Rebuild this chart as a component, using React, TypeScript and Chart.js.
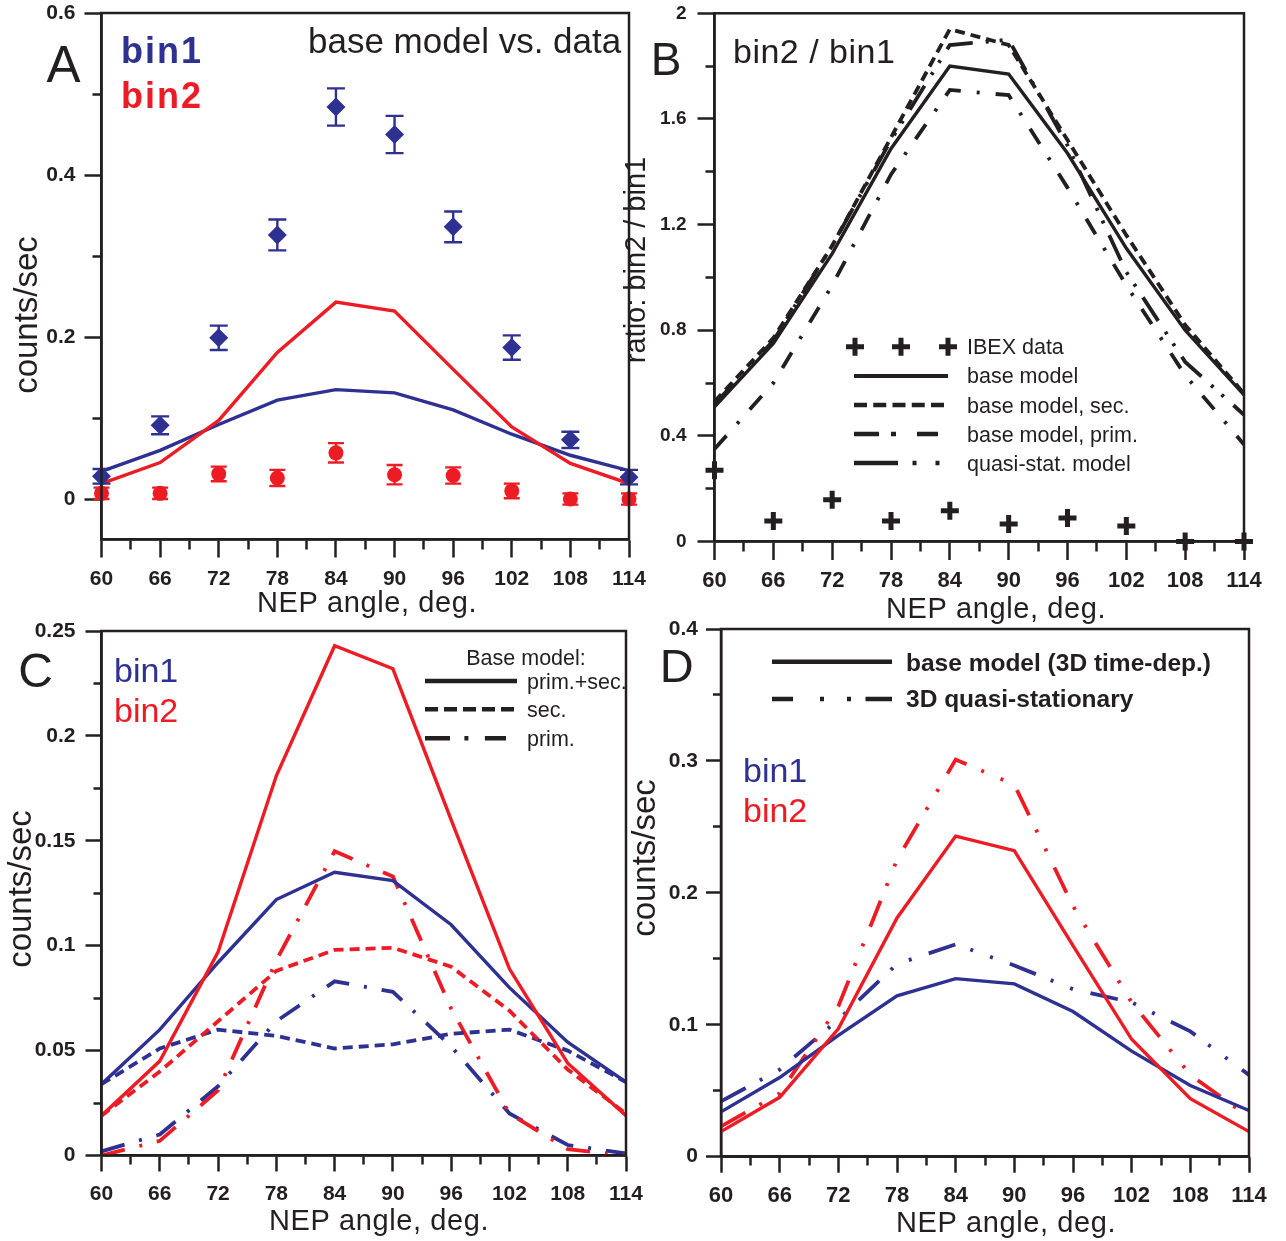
import React, { useEffect, useRef } from 'react';
import { Chart, registerables } from 'chart.js';

Chart.register(...registerables);

const W = 1286;
const H = 1241;
const OFF = 100; // canvases overhang the page so label padding never pushes the plot areas
const INK = '#231f20';
const BLUE = '#2e3192';
const RED = '#ed1c24';
const FONT = '"Liberation Sans", Arial, Helvetica, sans-serif';

// ---------- data ----------
const angles = [60, 66, 72, 78, 84, 90, 96, 102, 108, 114];
const xTicks = [60, 63, 66, 69, 72, 75, 78, 81, 84, 87, 90, 93, 96, 99, 102, 105, 108, 111, 114];
const xTickLabels = ['60', '', '66', '', '72', '', '78', '', '84', '', '90', '', '96', '', '102', '', '108', '', '114'];

// panel A: IBEX data with error bars
const bin1Data = [0.028, 0.091, 0.199, 0.326, 0.484, 0.450, 0.336, 0.187, 0.073, 0.027];
const bin1Err = [0.009, 0.011, 0.015, 0.019, 0.023, 0.023, 0.019, 0.015, 0.010, 0.009];
const bin2Data = [0.007, 0.007, 0.031, 0.026, 0.057, 0.030, 0.029, 0.010, 0.000, 0.000];
const bin2Err = [0.007, 0.007, 0.009, 0.010, 0.012, 0.012, 0.010, 0.009, 0.007, 0.007];

// base model (prim.+sec.), secondary only, primary only
const bin1Base = [0.034, 0.060, 0.092, 0.122, 0.135, 0.131, 0.110, 0.080, 0.054, 0.035];
const bin2Base = [0.019, 0.045, 0.097, 0.181, 0.243, 0.232, 0.160, 0.089, 0.044, 0.019];
const bin1Sec = [0.034, 0.051, 0.060, 0.057, 0.051, 0.053, 0.058, 0.060, 0.050, 0.035];
const bin2Sec = [0.019, 0.040, 0.064, 0.088, 0.098, 0.099, 0.090, 0.069, 0.041, 0.020];
const bin1Prim = [0.002, 0.010, 0.033, 0.064, 0.083, 0.078, 0.052, 0.020, 0.005, 0.001];
const bin2Prim = [0.000, 0.007, 0.031, 0.093, 0.145, 0.133, 0.070, 0.020, 0.003, 0.000];
// 3D quasi-stationary model
const bin1QS = [0.042, 0.066, 0.104, 0.146, 0.161, 0.145, 0.127, 0.117, 0.095, 0.062];
const bin2QS = [0.023, 0.048, 0.114, 0.225, 0.301, 0.282, 0.190, 0.117, 0.062, 0.030];

// panel B: ratio bin2 / bin1
const ratioIbex = [0.27, 0.078, 0.158, 0.078, 0.116, 0.066, 0.089, 0.059, 0.0, 0.0];
const ratioBase = [0.51, 0.75, 1.09, 1.487, 1.80, 1.77, 1.47, 1.11, 0.80, 0.555];
const ratioSec = [0.53, 0.77, 1.12, 1.53, 1.94, 1.88, 1.52, 1.16, 0.82, 0.56];
const ratioPrim = [0.35, 0.60, 0.97, 1.39, 1.71, 1.69, 1.34, 0.97, 0.63, 0.367];
const ratioQS = [0.52, 0.76, 1.12, 1.52, 1.88, 1.90, 1.50, 1.02, 0.68, 0.48];

// y ticks
const aYTicks = [0, 0.1, 0.2, 0.3, 0.4, 0.5, 0.6];
const aYLabels = ['0', '', '0.2', '', '0.4', '', '0.6'];
const bYTicks = [0, 0.2, 0.4, 0.6, 0.8, 1.0, 1.2, 1.4, 1.6, 1.8, 2.0];
const bYLabels = ['0', '', '0.4', '', '0.8', '', '1.2', '', '1.6', '', '2'];
const cYTicks = [0, 0.025, 0.05, 0.075, 0.1, 0.125, 0.15, 0.175, 0.2, 0.225, 0.25];
const cYLabels = ['0', '', '0.05', '', '0.1', '', '0.15', '', '0.2', '', '0.25'];
const dYTicks = [0, 0.05, 0.1, 0.15, 0.2, 0.25, 0.3, 0.35, 0.4];
const dYLabels = ['0', '', '0.1', '', '0.2', '', '0.3', '', '0.4'];

// ---------- styles ----------
const SOLID_W = 3.4;
const DASH_W = 3.8;
const DASH_SEC = [10, 6];
const DASH_PRIM_B = [18, 16, 3, 16];
const DASH_QS_B = [28, 13, 3, 11, 3, 13];
const DASH_PRIM_C = [24, 15, 3, 15];
const DASH_QS_D = [28, 16, 3, 18, 3, 18];

const xy = (ys: number[]) => ys.map((y, i) => ({ x: angles[i], y }));

const lineDs = (ys: number[], color: string, width: number, dash: number[] = []) => ({
  data: xy(ys),
  showLine: true,
  borderColor: color,
  borderWidth: width,
  borderDash: dash,
  pointRadius: 0,
  tension: 0,
  fill: false,
  borderCapStyle: 'butt',
  borderJoinStyle: 'miter',
});

const markerDs = (ys: number[], color: string, style: string, radius: number, bw = 0) => ({
  data: xy(ys),
  showLine: false,
  pointStyle: style,
  pointRadius: radius,
  pointBackgroundColor: color,
  pointBorderColor: color,
  pointBorderWidth: bw,
  clip: false,
});

type TextItem = {
  text: string; x: number; y: number; size: number; bold?: boolean; color?: string;
  align?: CanvasTextAlign; rot?: number; spacing?: number;
};
type LegendLine = { x1: number; x2: number; y: number; width: number; dash: number[]; color?: string };
type ErrBars = { index: number; values: number[]; errors: number[]; color: string; cap: number };

function makeDecor(texts: TextItem[], lines: LegendLine[], crosses: { x: number; y: number }[], errs: ErrBars[]) {
  return {
    id: 'decor',
    afterDatasetDraw(chart: any, args: any) {
      for (const eb of errs) {
        if (eb.index !== args.index) continue;
        const ctx = chart.ctx;
        const xs = chart.scales.x;
        const ys = chart.scales.y;
        ctx.save();
        ctx.strokeStyle = eb.color;
        ctx.lineWidth = 2.4;
        ctx.setLineDash([]);
        eb.values.forEach((v, i) => {
          const px = xs.getPixelForValue(angles[i]);
          const t = ys.getPixelForValue(v + eb.errors[i]);
          const b = ys.getPixelForValue(v - eb.errors[i]);
          ctx.beginPath();
          ctx.moveTo(px, t); ctx.lineTo(px, b);
          ctx.moveTo(px - eb.cap / 2, t); ctx.lineTo(px + eb.cap / 2, t);
          ctx.moveTo(px - eb.cap / 2, b); ctx.lineTo(px + eb.cap / 2, b);
          ctx.stroke();
        });
        ctx.restore();
      }
    },
    afterDraw(chart: any) {
      const ctx = chart.ctx;
      const a = chart.chartArea;
      ctx.save();
      ctx.setLineDash([]);
      ctx.strokeStyle = INK;
      ctx.lineWidth = 2.5;
      ctx.strokeRect(a.left, a.top, a.right - a.left, a.bottom - a.top);
      ctx.translate(OFF, OFF);
      for (const l of lines) {
        ctx.setLineDash(l.dash);
        ctx.strokeStyle = l.color || INK;
        ctx.lineWidth = l.width;
        ctx.lineCap = 'butt';
        ctx.beginPath();
        ctx.moveTo(l.x1, l.y);
        ctx.lineTo(l.x2, l.y);
        ctx.stroke();
      }
      ctx.setLineDash([]);
      for (const c of crosses) {
        ctx.strokeStyle = INK;
        ctx.lineWidth = 5;
        ctx.beginPath();
        ctx.moveTo(c.x - 9, c.y); ctx.lineTo(c.x + 9, c.y);
        ctx.moveTo(c.x, c.y - 9); ctx.lineTo(c.x, c.y + 9);
        ctx.stroke();
      }
      for (const t of texts) {
        ctx.save();
        ctx.font = `${t.bold ? 'bold ' : ''}${t.size}px ${FONT}`;
        ctx.fillStyle = t.color || INK;
        ctx.textAlign = t.align || 'left';
        ctx.textBaseline = 'alphabetic';
        (ctx as any).letterSpacing = `${t.spacing || 0}px`;
        ctx.translate(t.x, t.y);
        if (t.rot) ctx.rotate(t.rot);
        ctx.fillText(t.text, 0, 0);
        ctx.restore();
      }
      ctx.restore();
    },
  };
}

type AxisSpec = { tl: number; minor: number; size: number; pad: number };

function gridOpts(tl: number, minor: number, labels: string[], horizontal: boolean) {
  return {
    display: true,
    drawOnChartArea: false,
    drawTicks: true,
    tickLength: tl,
    tickWidth: 2.5,
    tickColor: INK,
    tickBorderDash: (c: any) =>
      labels[c.index] ? [] : horizontal ? [minor, 1000] : [0, tl - minor, minor, 1000],
  };
}

const CW = W + 2 * OFF;
const CH = H + 2 * OFF;

function makeConfig(p: {
  area: { l: number; r: number; t: number; b: number };
  yMin: number; yMax: number; yTicks: number[]; yLabels: string[];
  xa: AxisSpec; ya: AxisSpec;
  datasets: any[];
  plugin: any;
}) {
  const yW = 80;
  const xH = 60;
  return {
    type: 'line',
    data: { datasets: p.datasets },
    options: {
      responsive: false,
      animation: false,
      devicePixelRatio: 1,
      events: [],
      layout: {
        autoPadding: false,
        padding: {
          left: OFF + p.area.l - yW,
          top: OFF + p.area.t,
          right: CW - OFF - p.area.r,
          bottom: CH - OFF - p.area.b - xH,
        },
      },
      plugins: { legend: { display: false }, tooltip: { enabled: false }, title: { display: false } },
      scales: {
        x: {
          type: 'linear',
          position: 'bottom',
          min: 60,
          max: 114,
          bounds: 'data',
          afterBuildTicks: (s: any) => { s.ticks = xTicks.map((v) => ({ value: v })); },
          afterFit: (s: any) => { s.height = xH; },
          ticks: {
            autoSkip: false, maxRotation: 0, minRotation: 0, padding: p.xa.pad, color: INK,
            font: { family: FONT, size: p.xa.size, weight: 'bold' },
            callback: (_v: any, i: number) => xTickLabels[i] ?? '',
          },
          grid: gridOpts(p.xa.tl, p.xa.minor, xTickLabels, true),
          border: { display: true, color: INK, width: 2.5 },
        },
        y: {
          type: 'linear',
          position: 'left',
          min: p.yMin,
          max: p.yMax,
          bounds: 'data',
          afterBuildTicks: (s: any) => { s.ticks = p.yTicks.map((v) => ({ value: v })); },
          afterFit: (s: any) => { s.width = yW; },
          ticks: {
            autoSkip: false, padding: p.ya.pad, color: INK,
            font: { family: FONT, size: p.ya.size, weight: 'bold' },
            callback: (_v: any, i: number) => p.yLabels[i] ?? '',
          },
          grid: gridOpts(p.ya.tl, p.ya.minor, p.yLabels, false),
          border: { display: true, color: INK, width: 2.5 },
        },
      },
    },
    plugins: [p.plugin],
  };
}

const ROT = -Math.PI / 2;

// ---------- panel configs ----------
const configA = makeConfig({
  area: { l: 101.5, r: 629, t: 13, b: 539.5 },
  yMin: -0.05, yMax: 0.6, yTicks: aYTicks, yLabels: aYLabels,
  xa: { tl: 18, minor: 9, size: 21, pad: 9 },
  ya: { tl: 17, minor: 9, size: 21, pad: 9 },
  datasets: [
    markerDs(bin1Data, BLUE, 'rectRot', 9.5),
    markerDs(bin2Data, RED, 'circle', 7.5),
    lineDs(bin2Base, RED, SOLID_W),
    lineDs(bin1Base, BLUE, SOLID_W),
  ],
  plugin: makeDecor(
    [
      { text: 'A', x: 63.5, y: 82, size: 51, align: 'center' },
      { text: 'bin1', x: 121, y: 63, size: 36, bold: true, color: BLUE, spacing: 2 },
      { text: 'bin2', x: 121, y: 108, size: 36, bold: true, color: RED, spacing: 2 },
      { text: 'base model vs. data', x: 308, y: 53, size: 35 },
      { text: 'counts/sec', x: 37, y: 315, size: 33, align: 'center', rot: ROT },
      { text: 'NEP angle, deg.', x: 367, y: 612, size: 29, align: 'center', spacing: 0.6 },
    ],
    [],
    [],
    [
      { index: 0, values: bin1Data, errors: bin1Err, color: BLUE, cap: 18 },
      { index: 1, values: bin2Data, errors: bin2Err, color: RED, cap: 16 },
    ],
  ),
});

const configB = makeConfig({
  area: { l: 714.5, r: 1244, t: 13.3, b: 541.5 },
  yMin: 0, yMax: 2, yTicks: bYTicks, yLabels: bYLabels,
  xa: { tl: 18.5, minor: 9, size: 22, pad: 8 },
  ya: { tl: 17, minor: 9, size: 19, pad: 11 },
  datasets: [
    markerDs(ratioIbex, INK, 'cross', 9, 5),
    lineDs(ratioBase, INK, SOLID_W),
    lineDs(ratioSec, INK, DASH_W, DASH_SEC),
    lineDs(ratioPrim, INK, DASH_W, DASH_PRIM_B),
    lineDs(ratioQS, INK, DASH_W, DASH_QS_B),
  ],
  plugin: makeDecor(
    [
      { text: 'B', x: 666, y: 75, size: 46, align: 'center' },
      { text: 'bin2 / bin1', x: 733, y: 63, size: 34, spacing: 0.5 },
      { text: 'ratio: bin2 / bin1', x: 645, y: 260, size: 29, align: 'center', rot: ROT },
      { text: 'NEP angle, deg.', x: 996, y: 618, size: 29, align: 'center', spacing: 0.6 },
      { text: 'IBEX data', x: 967, y: 353.5, size: 21.5 },
      { text: 'base model', x: 967, y: 383, size: 21.5 },
      { text: 'base model, sec.', x: 967, y: 412.5, size: 21.5 },
      { text: 'base model, prim.', x: 967, y: 441.5, size: 21.5 },
      { text: 'quasi-stat. model', x: 967, y: 470.5, size: 21.5 },
    ],
    [
      { x1: 854, x2: 948, y: 376, width: 4, dash: [] },
      { x1: 854, x2: 944, y: 405, width: 4.5, dash: [13, 6.25] },
      { x1: 854, x2: 938, y: 434, width: 4.5, dash: [25, 12, 5, 21] },
      { x1: 854, x2: 940, y: 463, width: 4.5, dash: [44, 14.5, 4, 19, 4, 100] },
    ],
    [
      { x: 855, y: 346.7 },
      { x: 901, y: 346.7 },
      { x: 948, y: 346.7 },
    ],
    [],
  ),
});

const configC = makeConfig({
  area: { l: 101.5, r: 626, t: 631, b: 1155.5 },
  yMin: 0, yMax: 0.25, yTicks: cYTicks, yLabels: cYLabels,
  xa: { tl: 16, minor: 8, size: 21, pad: 10 },
  ya: { tl: 16, minor: 8, size: 21, pad: 10 },
  datasets: [
    lineDs(bin2Base, RED, SOLID_W),
    lineDs(bin1Base, BLUE, SOLID_W),
    lineDs(bin2Sec, RED, DASH_W, DASH_SEC),
    lineDs(bin1Sec, BLUE, DASH_W, DASH_SEC),
    lineDs(bin2Prim, RED, DASH_W, DASH_PRIM_C),
    lineDs(bin1Prim, BLUE, DASH_W, DASH_PRIM_C),
  ],
  plugin: makeDecor(
    [
      { text: 'C', x: 35.5, y: 687, size: 48, align: 'center' },
      { text: 'bin1', x: 114, y: 682, size: 34, color: BLUE },
      { text: 'bin2', x: 114, y: 722, size: 34, color: RED },
      { text: 'Base model:', x: 526, y: 665, size: 21.5, align: 'center' },
      { text: 'prim.+sec.', x: 527, y: 688.5, size: 21.5 },
      { text: 'sec.', x: 527, y: 716.5, size: 21.5 },
      { text: 'prim.', x: 527, y: 745.5, size: 21.5 },
      { text: 'counts/sec', x: 31, y: 889, size: 33, align: 'center', rot: ROT },
      { text: 'NEP angle, deg.', x: 379, y: 1230, size: 29, align: 'center', spacing: 0.6 },
    ],
    [
      { x1: 425, x2: 517, y: 681, width: 4.5, dash: [] },
      { x1: 425, x2: 514, y: 709.3, width: 4.5, dash: [13, 6] },
      { x1: 425, x2: 506, y: 738.3, width: 4.5, dash: [25, 14.4, 4, 16.5] },
    ],
    [],
    [],
  ),
});

const configD = makeConfig({
  area: { l: 721, r: 1249, t: 629, b: 1156.7 },
  yMin: 0, yMax: 0.4, yTicks: dYTicks, yLabels: dYLabels,
  xa: { tl: 16, minor: 8, size: 22, pad: 10 },
  ya: { tl: 15, minor: 8, size: 21, pad: 8 },
  datasets: [
    lineDs(bin2Base, RED, SOLID_W),
    lineDs(bin1Base, BLUE, SOLID_W),
    lineDs(bin2QS, RED, DASH_W, DASH_QS_D),
    lineDs(bin1QS, BLUE, DASH_W, DASH_QS_D),
  ],
  plugin: makeDecor(
    [
      { text: 'D', x: 676.7, y: 682, size: 47, align: 'center' },
      { text: 'bin1', x: 743, y: 782, size: 34, color: BLUE },
      { text: 'bin2', x: 743, y: 822, size: 34, color: RED },
      { text: 'base model (3D time-dep.)', x: 906, y: 670.7, size: 24.5, bold: true },
      { text: '3D quasi-stationary', x: 906, y: 707.3, size: 24.5, bold: true },
      { text: 'counts/sec', x: 655, y: 858, size: 33, align: 'center', rot: ROT },
      { text: 'NEP angle, deg.', x: 1006, y: 1232, size: 29, align: 'center', spacing: 0.6 },
    ],
    [
      { x1: 772, x2: 892, y: 661.7, width: 4.5, dash: [] },
      { x1: 772, x2: 892, y: 699, width: 4.5, dash: [21, 27, 4, 23, 4, 14.5, 27, 100] },
    ],
    [],
    [],
  ),
});

function Panel({ config }: { config: any }) {
  const ref = useRef<HTMLCanvasElement>(null);
  useEffect(() => {
    const chart = new Chart(ref.current as HTMLCanvasElement, config);
    return () => chart.destroy();
  }, [config]);
  return (
    <canvas
      ref={ref}
      width={CW}
      height={CH}
      style={{ position: 'absolute', left: -OFF, top: -OFF, width: CW, height: CH, pointerEvents: 'none' }}
    />
  );
}

export default function App() {
  return (
    <div style={{ position: 'absolute', left: 0, top: 0, width: W, height: H, background: '#fff', overflow: 'hidden' }}>
      <Panel config={configA} />
      <Panel config={configB} />
      <Panel config={configC} />
      <Panel config={configD} />
    </div>
  );
}
